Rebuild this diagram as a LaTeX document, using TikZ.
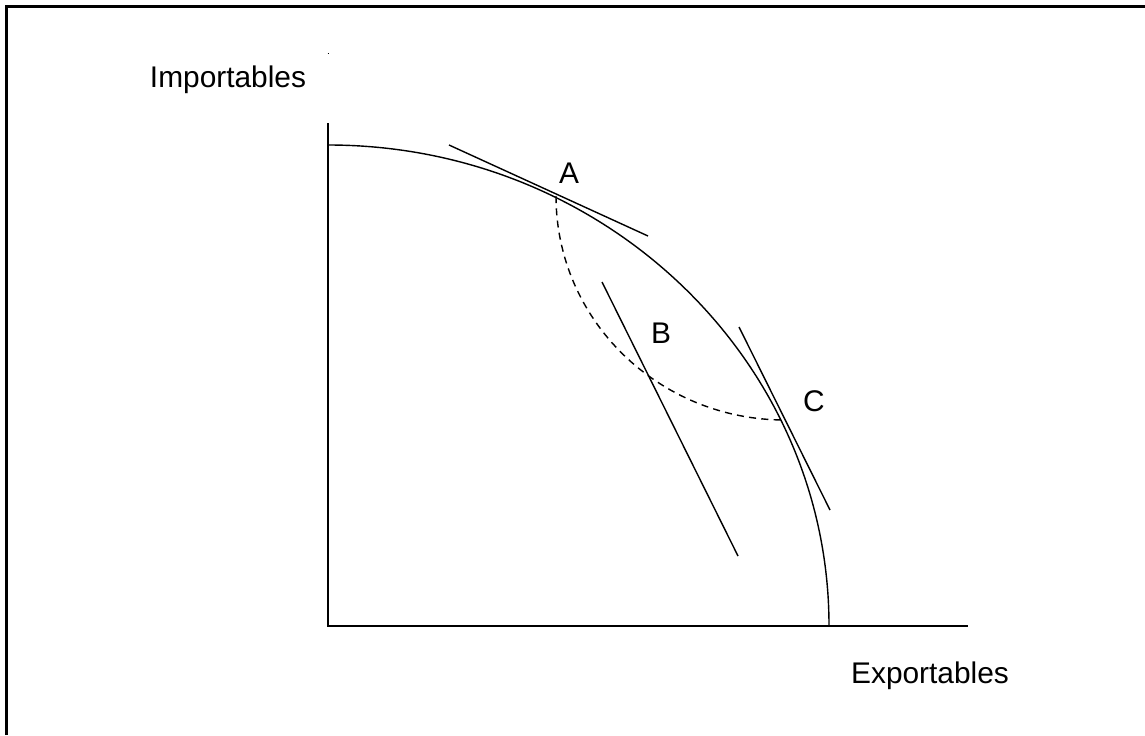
\documentclass[tikz,border=0pt]{standalone}
\usepackage{fontspec}
\setmainfont{Liberation Sans}
\usepackage{tikz}
\usetikzlibrary{positioning}

\begin{document}
\begin{tikzpicture}[
    x=0.02cm, y=0.02cm,
    font=\fontsize{17}{20}\selectfont,
    frame/.style={line width=1.2pt},
    axis/.style={line width=0.9pt},
    curve/.style={line width=0.8pt},
    tangent/.style={line width=0.8pt},
    path/.style={line width=0.8pt, dash pattern=on 4pt off 3pt},
    lbl/.style={inner sep=0pt}
]
\useasboundingbox (0,0) rectangle (1145,735);
% frame (only top and left edges visible)
\draw[frame] (6.5,0) -- (6.5,728.5) -- (1145,728.5);
\draw[line width=0.5pt] (327.5,682) -- (329,682);

% axes
\coordinate (O) at (328,109);
\coordinate (Ytop) at (328,612);
\coordinate (Xend) at (968,109);
\draw[axis] (Ytop) -- (O) -- (Xend);

% production possibility frontier
\coordinate (Ppf) at (328,590);
\draw[curve] (Ppf) arc[start angle=90, end angle=0, x radius=501, y radius=481];

% points
\coordinate (A) at (556,539);
\coordinate (C) at (785,315);
\coordinate (A1) at (449,590);
\coordinate (A2) at (648,499);
\coordinate (B1) at (602,453);
\coordinate (B2) at (738,179);
\coordinate (C1) at (739,408);
\coordinate (C2) at (830,225);

\draw[tangent] (A1) -- (A2);
\draw[tangent] (B1) -- (B2);
\draw[tangent] (C1) -- (C2);
\draw[path] (A) arc[start angle=180, end angle=270, x radius=229, y radius=224];

% labels
\node[lbl] (LabA) at (569,562) {A};
\node[lbl] (LabB) at (661,402) {B};
\node[lbl] (LabC) at (814,334) {C};
\node[lbl] (Imp) at (228,655) {Importables};
\node[lbl] (Exp) at (930,59) {Exportables};
\end{tikzpicture}
\end{document}
